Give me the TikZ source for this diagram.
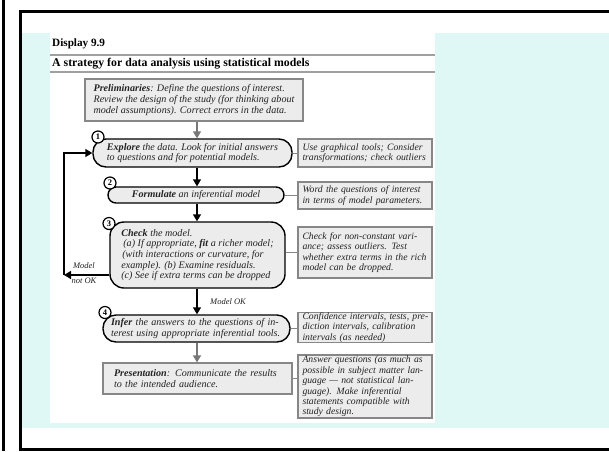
\documentclass[tikz,border=0pt]{standalone}
\usepackage{fontspec}
\setmainfont{Liberation Serif}
\usetikzlibrary{arrows.meta}
\definecolor{cyanbg}{RGB}{224,248,245}
\definecolor{boxgray}{RGB}{236,236,236}
\definecolor{edgegray}{RGB}{135,135,135}
\definecolor{arrgray}{RGB}{120,120,120}
\definecolor{rulegray}{RGB}{160,160,160}
\definecolor{txt}{RGB}{35,35,35}
\newcommand\bodyf{\fontsize{10.1}{10.7}\selectfont\itshape}
\newcommand\notef{\fontsize{9.7}{10.4}\selectfont\itshape}
\newcommand\jl[2][125pt]{\makebox[#1][s]{#2}}
\begin{document}
\begin{tikzpicture}[x=1pt,y=-1pt,
  pill/.style={draw=black, line width=1.4pt, fill=boxgray, inner ysep=0pt, font=\bodyf, text=txt},
  graybox/.style={draw=edgegray, line width=1.2pt, fill=boxgray, font=\bodyf, text=txt},
  note/.style={graybox, font=\notef, text width=125pt, inner xsep=4.5pt, inner ysep=0pt, align=left},
  num/.style={circle, draw=black, line width=1.2pt, fill=white, inner sep=0pt, minimum size=12pt, font=\fontsize{8.5}{9}\selectfont\bfseries},
  arr/.style={line width=1.5pt, -{Triangle[width=8pt,length=7pt]}},
  link/.style={draw=edgegray, line width=1pt},
  lbl/.style={font=\fontsize{8.5}{9}\selectfont\itshape, text=txt, inner sep=0pt}
]
\useasboundingbox (0,0) rectangle (609,451);
\fill[white] (0,0) rectangle (609,451);
% background areas
\fill[cyanbg] (21.5,33) rectangle (609,428);
\fill[white] (50,33) rectangle (435,423);
% frame
\draw[line width=3pt] (3,0) -- (3,451);
\draw[line width=3pt] (609,11) -- (20,11) -- (20,449.5) -- (609,449.5);
% header
\node[anchor=west, inner sep=0pt, font=\fontsize{11.2}{12}\selectfont\bfseries] (disp) at (52,44) {Display 9.9};
\draw[rulegray, line width=1.5pt] (50,55) -- (435,55);
\node[anchor=west, inner sep=0pt, font=\fontsize{11.8}{13}\selectfont\bfseries] (ttl) at (52,63.5) {A strategy for data analysis using statistical models};
\draw[rulegray, line width=1.5pt] (50,72) -- (435,72);
% main column
\node[graybox, minimum width=218pt, minimum height=42pt, inner ysep=0pt, align=left] (prelim) at (194,100)
  {\textbf{Preliminaries}: Define the questions of interest.\\ Review the design of the study (for thinking about\\ model assumptions). Correct errors in the data.};
\node[pill, rounded corners=13pt, minimum width=199pt, minimum height=28pt, align=left] (b1) at (192.5,153)
  {\textbf{Explore} the data. Look for initial answers\\ to questions and for potential models.};
\node[pill, rounded corners=8pt, minimum width=176pt, minimum height=16pt, align=center] (b2) at (196,195)
  {\textbf{Formulate} an inferential model};
\node[pill, rounded corners=14pt, minimum width=175pt, minimum height=66pt, align=left] (b3) at (197.5,255)
  {\textbf{Check} the model.\\ \hspace*{2pt}(a) If appropriate, \textbf{fit} a richer model;\\ \hspace*{1pt}(with interactions or curvature, for\\ example). (b) Examine residuals.\\ (c) See if extra terms can be dropped};
\node[pill, rounded corners=13pt, text width=171pt, inner xsep=8pt, minimum height=27pt, align=left] (b4) at (196.5,328.5)
  {\jl[171pt]{\textbf{Infer} the answers to the questions of in-}\\ terest using appropriate inferential tools.};
\node[graybox, text width=167pt, inner xsep=11pt, inner ysep=0pt, minimum height=31pt, align=left] (pres) at (197.5,378.5)
  {\jl[167pt]{\textbf{Presentation}: Communicate the results}\\ to the intended audience.};
% numbers
\node[num] (n1) at (98,137) {1};
\node[num] (n2) at (110,183) {2};
\node[num] (n3) at (109,223.5) {3};
\node[num] (n4) at (105,312.5) {4};
% right column
\node[note, minimum height=28pt] (r1) at (365,153)
  {\jl{Use graphical tools; Consider}\\ \jl{transformations; check outliers}};
\node[note, minimum height=27pt] (r2) at (365,195.5)
  {\jl{Word the questions of interest}\\ in terms of model parameters.};
\node[note, minimum height=51pt] (r3) at (365,252.5)
  {\jl{Check for non-constant vari-}\\ \jl{ance; assess outliers. Test}\\ \jl{whether extra terms in the rich}\\ model can be dropped.};
\node[note, minimum height=29pt] (r4) at (365,327.5)
  {\jl{Confidence intervals, tests, pre-}\\ \jl{diction intervals, calibration}\\ intervals (as needed)};
\node[note, minimum height=63pt] (r5) at (365,386.5)
  {\jl{Answer questions (as much as}\\ \jl{possible in subject matter lan-}\\ \jl{guage — not statistical lan-}\\ \jl{guage). Make inferential}\\ \jl{statements compatible with}\\ study design.};
% links
\draw[link] (b1.east) -- (b1.east -| r1.west);
\draw[link] (b2.east) -- (b2.east -| r2.west);
\draw[link] (b3.east |- r3.west) -- (r3.west);
\draw[link] (b4.east) -- (b4.east -| r4.west);
\draw[link] (pres.east) -- (pres.east -| r5.west);
% vertical arrows
\coordinate (colx) at (197,0);
\draw[arr, arrgray] (prelim.south -| colx) -- (b1.north -| colx);
\draw[arr] (b1.south -| colx) -- (b2.north -| colx);
\draw[arr] (b2.south -| colx) -- (b3.north -| colx);
\draw[arr] (b3.south -| colx) -- (b4.north -| colx);
\draw[arr, arrgray] (b4.south -| colx) -- (pres.north -| colx);
\node[lbl, anchor=west] (mok) at (210,302) {Model OK};
% feedback loop
\coordinate (fbc) at (64,275);
\draw[arr] (b3.west |- fbc) -- (fbc);
\draw[arr] (fbc) |- (b1.west);
\node[lbl] (mnot1) at (84,266) {Model};
\node[lbl] (mnot2) at (84,281) {not OK};
\end{tikzpicture}
\end{document}
